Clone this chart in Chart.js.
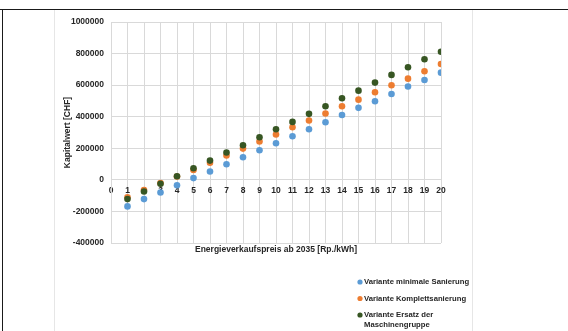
<!DOCTYPE html>
<html>
<head>
<meta charset="utf-8">
<script src="https://cdn.jsdelivr.net/npm/chart.js@4/dist/chart.umd.min.js"></script>
<style>
  html, body { margin: 0; padding: 0; background: #ffffff; }
  #wrap { position: relative; width: 568px; height: 331px; }
  canvas { display: block; }
</style>
</head>
<body>
<div id="wrap"><canvas id="c" width="568" height="331"></canvas></div>
<script>
// Energieverkaufspreis ab 2035 [Rp./kWh]
const prices = [1, 2, 3, 4, 5, 6, 7, 8, 9, 10, 11, 12, 13, 14, 15, 16, 17, 18, 19, 20];

// Kapitalwert [CHF] je Variante
const minimaleSanierung = [-168000, -122000, -80000, -34000, 11000, 53000, 99000, 143000, 188000, 232000,
  276000, 321000, 365000, 411000, 456000, 498000, 544000, 591000, 633000, 679000];
const komplettSanierung = [-110000, -65000, -21000, 21000, 63000, 108000, 154000, 198000, 243000, 287000,
  333000, 376000, 420000, 466000, 508000, 555000, 599000, 641000, 688000, 734000];
const ersatzMaschinengruppe = [-122000, -74000, -25000, 23000, 74000, 122000, 173000, 219000, 270000, 321000,
  367000, 418000, 466000, 517000, 565000, 616000, 665000, 713000, 764000, 812000];

const seriesLabels = [
  'Variante minimale Sanierung',
  'Variante Komplettsanierung',
  'Variante Ersatz der Maschinengruppe'
];
const seriesColors = ['#5B9BD5', '#ED7D31', '#375623'];

const xTitle = 'Energieverkaufspreis ab 2035 [Rp./kWh]';
const yTitle = 'Kapitalwert [CHF]';

const FONT = "'Liberation Sans', Arial, sans-serif";
const GRID = '#d9d9d9';
const TEXT = '#262626';

const toPoints = vals => prices.map((p, i) => ({ x: p, y: vals[i] }));

// Page frame around the figure
const framePlugin = {
  id: 'frame',
  beforeDraw(chart) {
    const ctx = chart.ctx;
    ctx.save();
    ctx.fillStyle = '#ffffff';
    ctx.fillRect(0, 0, chart.width, chart.height);
    ctx.strokeStyle = '#1a1a1a';
    ctx.lineWidth = 1;
    ctx.beginPath();
    ctx.moveTo(0, 9.5); ctx.lineTo(chart.width, 9.5);
    ctx.moveTo(2.5, 9.5); ctx.lineTo(2.5, chart.height);
    ctx.stroke();
    ctx.strokeStyle = '#e6e6e6';
    ctx.beginPath();
    ctx.moveTo(54.5, 10); ctx.lineTo(54.5, chart.height);
    ctx.moveTo(472.5, 10); ctx.lineTo(472.5, chart.height);
    ctx.stroke();
    ctx.restore();
  }
};

// Vertical legend in the lower right, wrapping long entries
const legendPlugin = {
  id: 'sideLegend',
  afterDraw(chart, args, opts) {
    const ctx = chart.ctx;
    ctx.save();
    ctx.font = `bold ${opts.fontSize}px ${FONT}`;
    ctx.textBaseline = 'middle';
    ctx.textAlign = 'left';
    let y = opts.top;
    chart.data.datasets.forEach(ds => {
      ctx.fillStyle = ds.backgroundColor;
      ctx.beginPath();
      ctx.arc(opts.left, y, opts.markerRadius, 0, Math.PI * 2);
      ctx.fill();
      // word wrap
      const words = ds.label.split(' ');
      const lines = [];
      let line = '';
      words.forEach(w => {
        const test = line ? line + ' ' + w : w;
        if (ctx.measureText(test).width > opts.maxWidth && line) {
          lines.push(line);
          line = w;
        } else {
          line = test;
        }
      });
      lines.push(line);
      ctx.fillStyle = TEXT;
      lines.forEach((l, i) => ctx.fillText(l, opts.left + opts.textGap, y + i * opts.lineHeight));
      y += opts.rowGap + (lines.length - 1) * opts.lineHeight;
    });
    ctx.restore();
  }
};

new Chart(document.getElementById('c'), {
  type: 'scatter',
  data: {
    datasets: [minimaleSanierung, komplettSanierung, ersatzMaschinengruppe].map((vals, i) => ({
      label: seriesLabels[i],
      data: toPoints(vals),
      backgroundColor: seriesColors[i],
      borderColor: seriesColors[i],
      borderWidth: 0,
      pointRadius: 3.3,
      pointHoverRadius: 3.3,
      order: 3 - i
    }))
  },
  options: {
    responsive: false,
    animation: false,
    events: [],
    layout: { padding: { left: 55, top: 22, right: 127, bottom: 72 } },
    plugins: {
      legend: { display: false },
      tooltip: { enabled: false },
      sideLegend: {
        left: 360, top: 282, textGap: 4, rowGap: 16.5, lineHeight: 10,
        markerRadius: 2.6, fontSize: 7.7, maxWidth: 112
      }
    },
    scales: {
      x: {
        type: 'linear',
        position: { y: 0 },
        min: 0, max: 20,
        ticks: {
          stepSize: 1, color: TEXT, padding: 6, maxRotation: 0,
          font: { family: FONT, size: 8.5, weight: 'bold' }
        },
        grid: { color: GRID, lineWidth: 1, drawTicks: false },
        border: { color: GRID, width: 1 }
      },
      xt: {
        type: 'linear',
        position: 'bottom',
        min: 0, max: 20,
        ticks: { display: false },
        grid: { display: false, drawTicks: false },
        border: { display: false },
        title: {
          display: true, text: xTitle, color: TEXT,
          padding: { top: 2, bottom: 4 },
          font: { family: FONT, size: 8.5, weight: 'bold' }
        },
        afterFit(scale) { scale.height = 16; }
      },
      y: {
        type: 'linear',
        min: -400000, max: 1000000,
        ticks: {
          stepSize: 200000, color: TEXT, padding: 7,
          font: { family: FONT, size: 8.5, weight: 'bold' },
          callback: v => String(v)
        },
        grid: { color: GRID, lineWidth: 1, drawTicks: false },
        border: { color: GRID, width: 1 },
        title: {
          display: true, text: yTitle, color: TEXT,
          padding: { top: 8, bottom: 0 },
          font: { family: FONT, size: 8.5, weight: 'bold' }
        },
        afterFit(scale) { scale.width = 56; }
      }
    }
  },
  plugins: [framePlugin, legendPlugin]
});
</script>
</body>
</html>
